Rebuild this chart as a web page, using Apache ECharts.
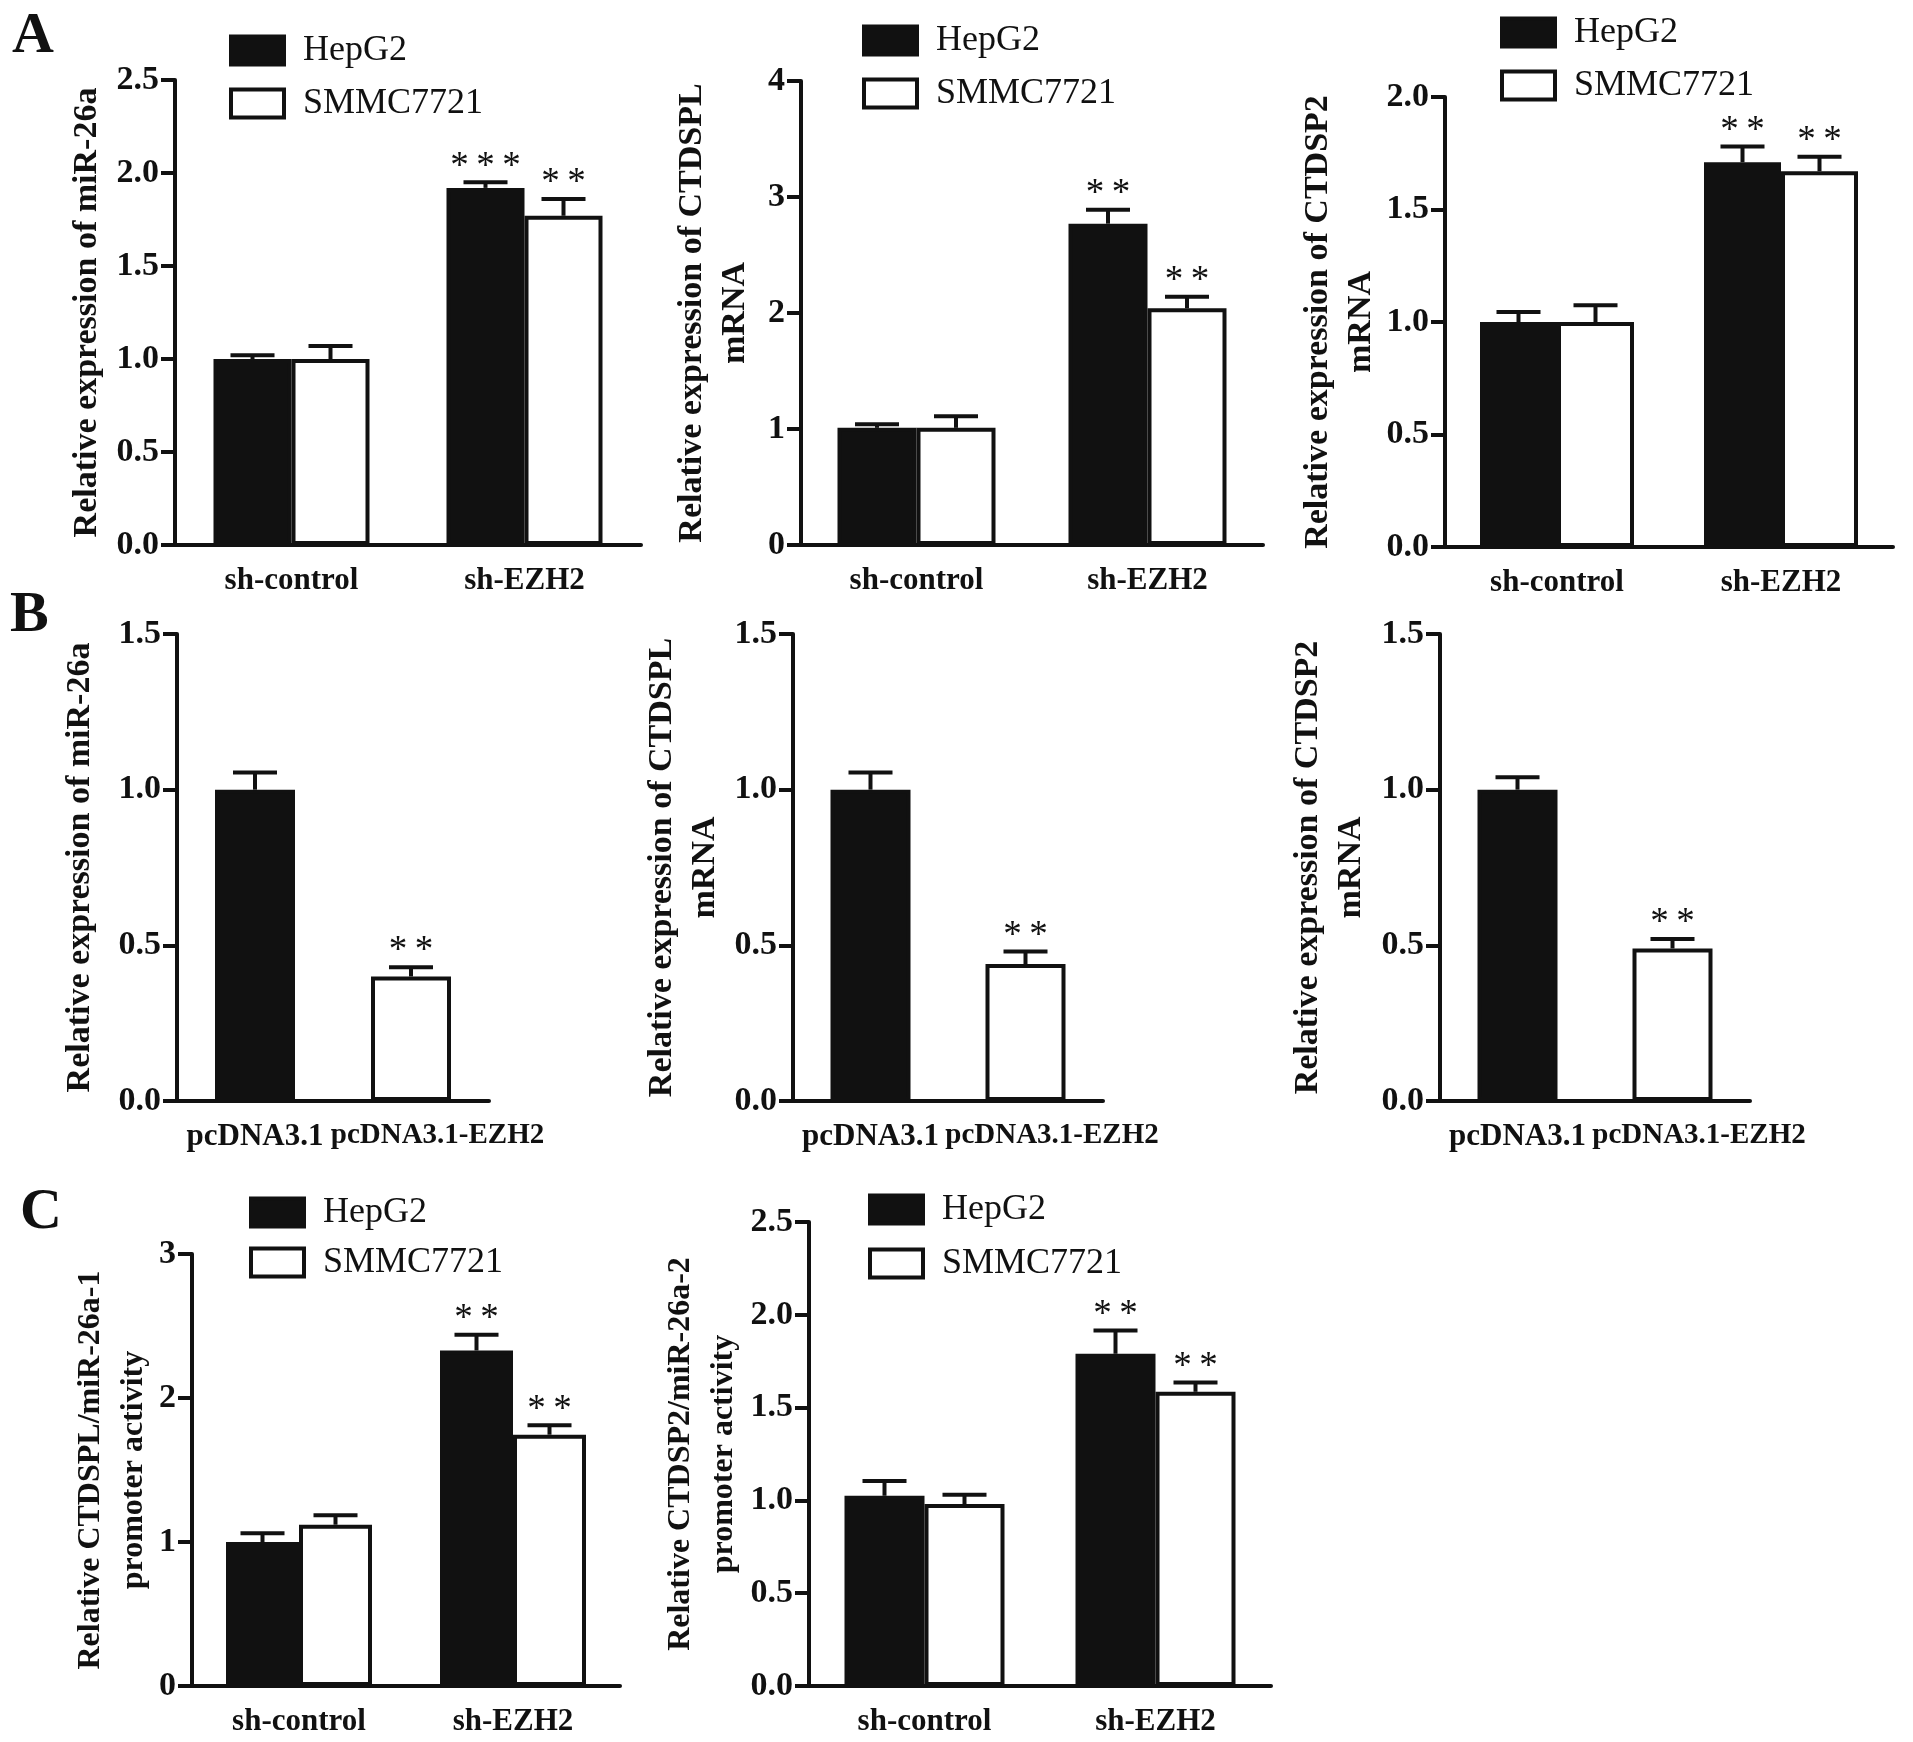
<!DOCTYPE html>
<html>
<head>
<meta charset="utf-8">
<script src="https://cdn.jsdelivr.net/npm/echarts@6/dist/echarts.min.js"></script>
<style>
html,body{margin:0;padding:0;background:#fff;}
#chart{width:1913px;height:1742px;}
</style>
</head>
<body>
<div id="chart"></div>
<script>
// ---------- DATA ----------
const catsSh = ['sh-control', 'sh-EZH2'];
const catsPc = ['pcDNA3.1', 'pcDNA3.1-EZH2'];
const cellLines = ['HepG2', 'SMMC7721'];

// Panel A1: miR-26a
const a1Hep = [1.00, 1.92];  const a1HepErr = [0.02, 0.03];  const a1HepSig = ['', '***'];
const a1Smmc = [1.00, 1.77]; const a1SmmcErr = [0.07, 0.09]; const a1SmmcSig = ['', '**'];
// Panel A2: CTDSPL mRNA
const a2Hep = [1.01, 2.77];  const a2HepErr = [0.03, 0.12];  const a2HepSig = ['', '**'];
const a2Smmc = [1.01, 2.04]; const a2SmmcErr = [0.10, 0.10]; const a2SmmcSig = ['', '**'];
// Panel A3: CTDSP2 mRNA
const a3Hep = [1.00, 1.71];  const a3HepErr = [0.045, 0.07]; const a3HepSig = ['', '**'];
const a3Smmc = [1.00, 1.67]; const a3SmmcErr = [0.075, 0.065]; const a3SmmcSig = ['', '**'];
// Panel B1-B3
const b1Vals = [1.00, 0.40]; const b1Err = [0.055, 0.03]; const b1Sig = ['', '**'];
const b2Vals = [1.00, 0.44]; const b2Err = [0.055, 0.04]; const b2Sig = ['', '**'];
const b3Vals = [1.00, 0.49]; const b3Err = [0.04, 0.03];  const b3Sig = ['', '**'];
// Panel C1: CTDSPL/miR-26a-1 promoter
const c1Hep = [1.00, 2.33];  const c1HepErr = [0.06, 0.11];  const c1HepSig = ['', '**'];
const c1Smmc = [1.12, 1.745]; const c1SmmcErr = [0.065, 0.065]; const c1SmmcSig = ['', '**'];
// Panel C2: CTDSP2/miR-26a-2 promoter
const c2Hep = [1.025, 1.79]; const c2HepErr = [0.08, 0.125]; const c2HepSig = ['', '**'];
const c2Smmc = [0.98, 1.585]; const c2SmmcErr = [0.05, 0.05]; const c2SmmcSig = ['', '**'];

// ---------- STYLE ----------
const FONT = '"Liberation Serif", "Times New Roman", serif';
const INK = '#111';
const BLACK = {color: INK, borderColor: INK, borderWidth: 4};
const WHITE = {color: '#fff', borderColor: INK, borderWidth: 4};

const option = {
  animation: false,
  backgroundColor: '#fff',
  grid: [], xAxis: [], yAxis: [], series: [], legend: [], graphic: []
};

function makeErr(offset, sigs, capHalf) {
  return function (params, api) {
    const i = api.value(0);
    const base = api.coord([i, api.value(1)]);
    const top = api.coord([i, api.value(1) + api.value(2)]);
    const x = base[0] + offset;
    const ls = {stroke: INK, lineWidth: 4};
    const children = [
      {type: 'line', shape: {x1: x, y1: base[1], x2: x, y2: top[1]}, style: ls},
      {type: 'line', shape: {x1: x - capHalf, y1: top[1], x2: x + capHalf, y2: top[1]}, style: ls}
    ];
    const s = sigs[params.dataIndex];
    if (s) {
      children.push({type: 'text', style: {text: s.split('').join('\u2009'), x: x, y: top[1] + 3, align: 'center',
        verticalAlign: 'bottom', font: '37px ' + FONT, fill: INK}});
    }
    return {type: 'group', children: children};
  };
}

function addPanel(p) {
  const gi = option.grid.length;
  const lbl = p.labelStyle || [];
  option.grid.push({left: p.left, top: p.top, width: p.width, height: p.height});
  option.xAxis.push({
    type: 'category', gridIndex: gi,
    data: p.cats.map((c, i) => lbl[i] ? {value: c, textStyle: lbl[i]} : c),
    axisLine: {lineStyle: {color: INK, width: 4}},
    axisTick: {alignWithLabel: true, length: 14, lineStyle: {color: INK, width: 4}},
    axisLabel: {interval: 0, hideOverlap: false, fontFamily: FONT, fontWeight: 'bold', fontSize: 31, color: INK, margin: 20}
  });
  option.yAxis.push({
    type: 'value', gridIndex: gi, min: 0, max: p.max, interval: p.interval,
    splitLine: {show: false},
    axisLine: {show: true, lineStyle: {color: INK, width: 4}},
    axisTick: {show: true, length: 14, lineStyle: {color: INK, width: 4}},
    axisLabel: {fontFamily: FONT, fontWeight: 'bold', fontSize: 34, color: INK, margin: 16,
      formatter: v => v.toFixed(p.decimals)},
    name: p.name, nameLocation: 'middle', nameRotate: 90, nameGap: p.nameGap,
    nameTextStyle: {fontFamily: FONT, fontWeight: 'bold', fontSize: p.nameSize, color: INK,
      lineHeight: 43, align: 'center', verticalAlign: 'middle'}
  });
  p.groups.forEach(g => {
    option.series.push({
      type: 'bar', name: g.name, xAxisIndex: gi, yAxisIndex: gi,
      data: g.values.map((v, i) => ({value: v, itemStyle: g.styles[i]})),
      barWidth: p.bw, barGap: '0%'
    });
    option.series.push({
      type: 'custom', xAxisIndex: gi, yAxisIndex: gi, silent: true, z: 5,
      data: g.values.map((v, i) => [i, v, g.errs[i]]),
      renderItem: makeErr(g.offset, g.sigs, 22)
    });
  });
  if (p.legend) {
    option.legend.push({
      orient: 'vertical', left: p.legend.left, top: p.legend.top,
      itemWidth: 53, itemHeight: 28, itemGap: p.legend.gap, icon: 'rect', selectedMode: false,
      data: [{name: cellLines[0], itemStyle: BLACK}, {name: cellLines[1], itemStyle: WHITE}],
      textStyle: {fontFamily: FONT, fontSize: 36, color: INK, lineHeight: 37, padding: [0, 0, 0, 14]}
    });
  }
}

function twoGroups(hep, hepErr, hepSig, smmc, smmcErr, smmcSig, bw) {
  return [
    {name: cellLines[0], values: hep, errs: hepErr, sigs: hepSig, styles: [BLACK, BLACK], offset: -bw / 2},
    {name: cellLines[1], values: smmc, errs: smmcErr, sigs: smmcSig, styles: [WHITE, WHITE], offset: bw / 2}
  ];
}
function oneGroup(name, vals, errs, sigs) {
  return [{name: name, values: vals, errs: errs, sigs: sigs, styles: [BLACK, WHITE], offset: 0}];
}

const PC_LABELS = [null, {fontSize: 29, padding: [0, 0, 0, 53]}];

// Row A
addPanel({left: 175, top: 80, width: 466, height: 465, cats: catsSh, max: 2.5, interval: 0.5, decimals: 1,
  name: 'Relative expression of miR-26a', nameGap: 88, nameSize: 34, bw: 78,
  groups: twoGroups(a1Hep, a1HepErr, a1HepSig, a1Smmc, a1SmmcErr, a1SmmcSig, 78),
  legend: {left: 224, top: 27, gap: 16}});
addPanel({left: 801, top: 81, width: 462, height: 464, cats: catsSh, max: 4, interval: 1, decimals: 0,
  name: 'Relative expression of CTDSPL\nmRNA', nameGap: 87, nameSize: 34, bw: 79,
  groups: twoGroups(a2Hep, a2HepErr, a2HepSig, a2Smmc, a2SmmcErr, a2SmmcSig, 79),
  legend: {left: 857, top: 17, gap: 16}});
addPanel({left: 1445, top: 97, width: 448, height: 450, cats: catsSh, max: 2.0, interval: 0.5, decimals: 1,
  name: 'Relative expression of CTDSP2\nmRNA', nameGap: 104, nameSize: 34, bw: 77,
  groups: twoGroups(a3Hep, a3HepErr, a3HepSig, a3Smmc, a3SmmcErr, a3SmmcSig, 77),
  legend: {left: 1495, top: 9, gap: 16}});

// Row B
addPanel({left: 177, top: 634, width: 312, height: 467, cats: catsPc, max: 1.5, interval: 0.5, decimals: 1,
  name: 'Relative expression of miR-26a', nameGap: 97, nameSize: 34, bw: 80, labelStyle: PC_LABELS,
  groups: oneGroup('B1', b1Vals, b1Err, b1Sig)});
addPanel({left: 793, top: 634, width: 310, height: 467, cats: catsPc, max: 1.5, interval: 0.5, decimals: 1,
  name: 'Relative expression of CTDSPL\nmRNA', nameGap: 109, nameSize: 34, bw: 80, labelStyle: PC_LABELS,
  groups: oneGroup('B2', b2Vals, b2Err, b2Sig)});
addPanel({left: 1440, top: 634, width: 310, height: 467, cats: catsPc, max: 1.5, interval: 0.5, decimals: 1,
  name: 'Relative expression of CTDSP2\nmRNA', nameGap: 110, nameSize: 34, bw: 80, labelStyle: PC_LABELS,
  groups: oneGroup('B3', b3Vals, b3Err, b3Sig)});

// Row C
addPanel({left: 192, top: 1254, width: 428, height: 432, cats: catsSh, max: 3, interval: 1, decimals: 0,
  name: 'Relative CTDSPL/miR-26a-1\npromoter activity', nameGap: 79, nameSize: 32, bw: 73,
  groups: twoGroups(c1Hep, c1HepErr, c1HepSig, c1Smmc, c1SmmcErr, c1SmmcSig, 73),
  legend: {left: 244, top: 1189, gap: 13}});
addPanel({left: 809, top: 1222, width: 462, height: 464, cats: catsSh, max: 2.5, interval: 0.5, decimals: 1,
  name: 'Relative CTDSP2/miR-26a-2\npromoter activity', nameGap: 107, nameSize: 32, bw: 80,
  groups: twoGroups(c2Hep, c2HepErr, c2HepSig, c2Smmc, c2SmmcErr, c2SmmcSig, 80),
  legend: {left: 863, top: 1186, gap: 17}});

// Panel letters
[['A', 12, 8], ['B', 10, 587], ['C', 20, 1184]].forEach(([t, x, y]) => {
  option.graphic.push({type: 'text', left: x, top: y,
    style: {text: t, font: 'bold 58px ' + FONT, fill: INK}});
});

const chart = echarts.init(document.getElementById('chart'), null, {renderer: 'canvas'});
chart.setOption(option);
</script>
</body>
</html>
